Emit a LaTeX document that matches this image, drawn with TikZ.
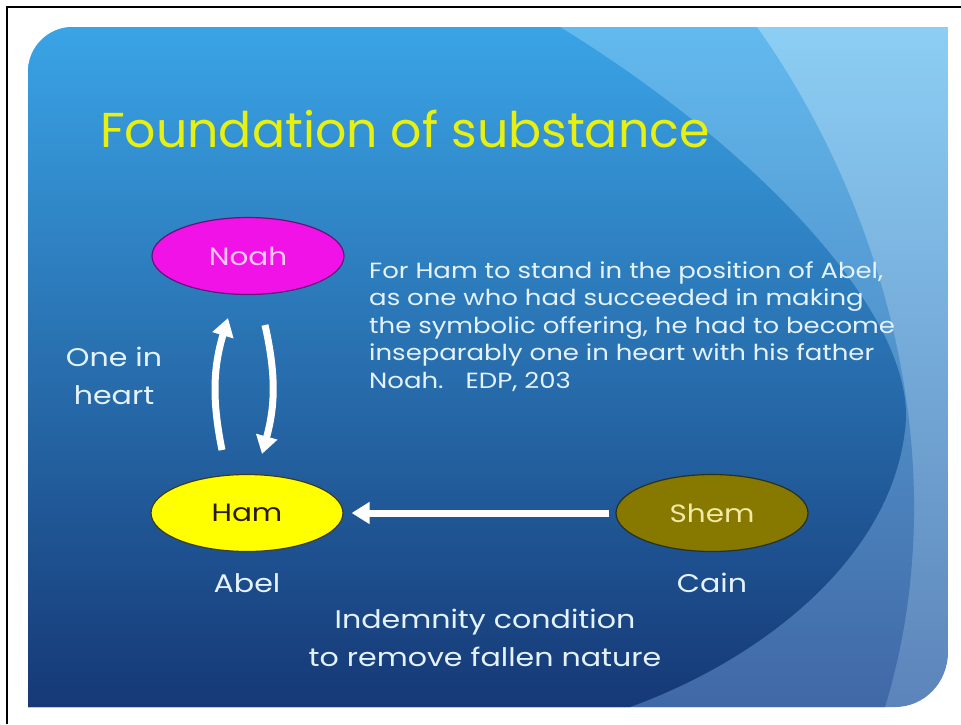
\documentclass[tikz,border=0pt]{standalone}
\usepackage{fontspec}
\setmainfont{Poppins}[FakeStretch=1.18]
\newfontfamily\titlefont{Poppins}
\usetikzlibrary{arrows.meta,shapes.geometric}
\definecolor{titleyellow}{HTML}{E8F010}
\definecolor{paletext}{HTML}{E4F2FC}
\definecolor{noahfill}{HTML}{F012E6}
\definecolor{hamfill}{HTML}{FFFF00}
\definecolor{shemfill}{HTML}{877800}
\definecolor{shemtext}{HTML}{F2E9A6}
\tikzset{
  oval/.style={ellipse, minimum width=192pt, minimum height=77pt, line width=1.2pt, font=\fontsize{25}{30}\selectfont},
  bigarrow/.style={draw=white, line width=7pt, -{Triangle[length=18pt,width=21pt]}},
  lbl/.style={text=paletext, font=\fontsize{25.5}{38}\selectfont, align=center},
}
\begin{document}
\begin{tikzpicture}[x=1pt,y=-1pt]
\useasboundingbox (0,0) rectangle (961,724);
\fill[white] (0,0) rectangle (961,724);
% frame lines
\draw[black, line width=2.2pt] (7,724) -- (7,7) -- (961,7);
% slide background
\def\slidepath{(28,72) .. controls (28,47) and (48,27) .. (73,27) -- (948,27) -- (948,652) .. controls (948,682) and (925,707) .. (895,707) -- (28,707) -- cycle}
\begin{scope}
\clip \slidepath;
\shade[top color={rgb,255:red,140;green,206;blue,244}, bottom color={rgb,255:red,92;green,132;blue,186}] (28,27) rectangle (948,707);
\shade[top color={rgb,255:red,98;green,186;blue,238}, bottom color={rgb,255:red,64;green,104;blue,166}]
  (28,27) -- (757,27) .. controls (880,200) and (960,460) .. (885,707) -- (28,707) -- cycle;
\shade[top color={rgb,255:red,58;green,164;blue,230}, middle color={rgb,255:red,34;green,100;blue,168}, bottom color={rgb,255:red,22;green,56;blue,118}]
  (28,27) -- (560,27) .. controls (760,150) and (920,320) .. (905,430) .. controls (890,560) and (760,660) .. (630,707) -- (28,707) -- cycle;
\end{scope}
% title
\node[anchor=base west, text=titleyellow, font=\titlefont\fontsize{49}{52}\selectfont, inner sep=0pt] (title) at (100,147) {Foundation of substance};
% ovals
\node[oval, fill=noahfill, draw={rgb,255:red,100;green,20;blue,120}, text={rgb,255:red,250;green,200;blue,245}] (Noah) at (248,256) {Noah};
\node[oval, fill=hamfill, draw={rgb,255:red,60;green,60;blue,40}, text={rgb,255:red,40;green,30;blue,0}] (Ham) at (247,513) {Ham};
\node[oval, fill=shemfill, draw={rgb,255:red,40;green,50;blue,30}, text=shemtext] (Shem) at (712,513) {Shem};
% arrows
\coordinate (upS) at (222,450);
\coordinate (upE) at (228,318);
\coordinate (dnS) at (265,325);
\coordinate (dnE) at (262,454);
\draw[bigarrow] (upS) to[bend left=14] (upE);
\draw[bigarrow] (dnS) to[bend left=14] (dnE);
\draw[bigarrow, shorten <=6pt, shorten >=8pt] (Shem.west) -- (Ham.east);
% labels
\node[lbl] (onein) at (114,376) {One in\\heart};
\node[lbl] (abel) at (247,583) {Abel};
\node[lbl] (cain) at (712,583) {Cain};
\node[lbl] (indem) at (485,638) {Indemnity condition\\to remove fallen nature};
\node[anchor=north west, inner sep=0pt, text=paletext, align=left, font=\fontsize{22}{27.5}\selectfont] (quote) at (369,261)
 {For Ham to stand in the position of Abel,\\as one who had succeeded in making\\the symbolic offering, he had to become\\inseparably one in heart with his father\\Noah.\quad EDP, 203};
\end{tikzpicture}
\end{document}
